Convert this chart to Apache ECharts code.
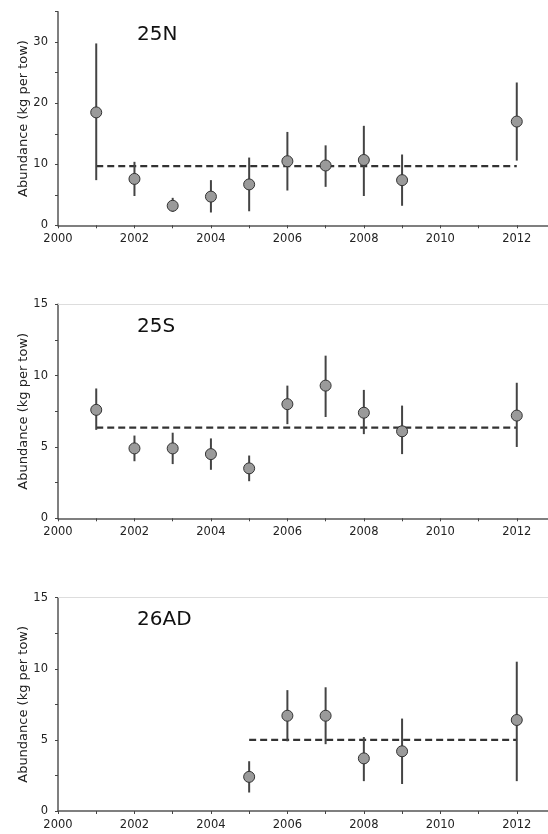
<!DOCTYPE html>
<html>
<head>
<meta charset="utf-8">
<script src="https://cdn.jsdelivr.net/npm/echarts@6/dist/echarts.min.js"></script>
<style>
  html, body { margin: 0; padding: 0; background: #fff; }
  #chart { width: 548px; height: 834px; }
</style>
</head>
<body>
<div id="chart"></div>
<script>
// 25N
const years25N = [2001, 2002, 2003, 2004, 2005, 2006, 2007, 2008, 2009, 2012];
const mean25N = [18.5, 7.6, 3.2, 4.7, 6.7, 10.5, 9.8, 10.7, 7.4, 17.0];
const low25N = [7.4, 4.8, 2.2, 2.1, 2.3, 5.7, 6.3, 4.8, 3.2, 10.6];
const high25N = [29.8, 10.4, 4.5, 7.4, 11.1, 15.3, 13.1, 16.3, 11.6, 23.4];
const avg25N = 9.7;

// 25S
const years25S = [2001, 2002, 2003, 2004, 2005, 2006, 2007, 2008, 2009, 2012];
const mean25S = [7.6, 4.9, 4.9, 4.5, 3.5, 8.0, 9.3, 7.4, 6.1, 7.2];
const low25S = [6.2, 4.0, 3.8, 3.4, 2.6, 6.6, 7.1, 5.9, 4.5, 5.0];
const high25S = [9.1, 5.8, 6.0, 5.6, 4.4, 9.3, 11.4, 9.0, 7.9, 9.5];
const avg25S = 6.35;

// 26AD
const years26AD = [2005, 2006, 2007, 2008, 2009, 2012];
const mean26AD = [2.4, 6.7, 6.7, 3.7, 4.2, 6.4];
const low26AD = [1.3, 4.9, 4.7, 2.1, 1.9, 2.1];
const high26AD = [3.5, 8.5, 8.7, 5.2, 6.5, 10.5];
const avg26AD = 5.0;

const panelNames = ['25N', '25S', '26AD'];
const yMax = [35, 15, 15];
const yStep = [5, 2.5, 2.5];
const yLabelStep = [10, 5, 5];
const yTitle = 'Abundance (kg per tow)';

const panels = [
    { years: years25N, mean: mean25N, low: low25N, high: high25N, avg: avg25N },
    { years: years25S, mean: mean25S, low: low25S, high: high25S, avg: avg25S },
    { years: years26AD, mean: mean26AD, low: low26AD, high: high26AD, avg: avg26AD }
];

const gridTops = [11.7, 304.3, 597.7];
const gridHeights = [213.6, 214, 213.3];
const FONT = '"DejaVu Sans", Verdana, sans-serif';

const chart = echarts.init(document.getElementById('chart'), null, { renderer: 'canvas' });

const grid = [], xAxis = [], yAxis = [], series = [], title = [];

panels.forEach((p, i) => {
    grid.push({
        left: 58, top: gridTops[i], width: 497, height: gridHeights[i],
        containLabel: false, outerBoundsMode: 'none'
    });

    xAxis.push({
        type: 'value', gridIndex: i, min: 2000, max: 2013, interval: 1,
        axisLine: { onZero: false, lineStyle: { color: '#555', width: 1.5 } },
        axisTick: { length: 3, lineStyle: { color: '#444', width: 1 } },
        splitLine: { show: false },
        axisLabel: {
            color: '#222', fontSize: 11.5, fontFamily: FONT, margin: 8,
            formatter: v => (v % 2 === 0 && v <= 2012) ? String(v) : ''
        }
    });
    // light top border on lower panels
    xAxis.push({
        type: 'value', gridIndex: i, position: 'top', min: 2000, max: 2013,
        axisLine: { show: i > 0, onZero: false, lineStyle: { color: '#ddd', width: 1 } },
        axisTick: { show: false }, axisLabel: { show: false }, splitLine: { show: false }
    });

    yAxis.push({
        type: 'value', gridIndex: i, min: 0, max: yMax[i], interval: yStep[i],
        name: yTitle, nameLocation: 'middle', nameGap: 28, nameMoveOverlap: false,
        nameTextStyle: { color: '#222', fontSize: 13, fontFamily: FONT },
        axisLine: { show: true, lineStyle: { color: '#555', width: 1.5 } },
        axisTick: { show: true, length: 3, lineStyle: { color: '#444', width: 1 } },
        splitLine: { show: false },
        axisLabel: {
            color: '#222', fontSize: 11.5, fontFamily: FONT, margin: 10,
            formatter: v => (v % yLabelStep[i] === 0) ? String(v) : ''
        }
    });

    const xIdx = i * 2;

    // average dashed line
    series.push({
        type: 'line', xAxisIndex: xIdx, yAxisIndex: i,
        data: [[p.years[0], p.avg], [p.years[p.years.length - 1], p.avg]],
        symbol: 'none', silent: true, z: 2,
        lineStyle: { color: '#333', width: 2.2, type: [7, 4] }
    });

    // error bars
    series.push({
        type: 'custom', xAxisIndex: xIdx, yAxisIndex: i, z: 3,
        data: p.years.map((y, k) => [y, p.low[k], p.high[k]]),
        encode: { x: 0, y: [1, 2] },
        renderItem: (params, api) => {
            const a = api.coord([api.value(0), api.value(1)]);
            const b = api.coord([api.value(0), api.value(2)]);
            return {
                type: 'line',
                shape: { x1: a[0], y1: a[1], x2: b[0], y2: b[1] },
                style: { stroke: '#444', lineWidth: 2 }
            };
        }
    });

    // means
    series.push({
        type: 'scatter', xAxisIndex: xIdx, yAxisIndex: i, z: 4,
        data: p.years.map((y, k) => [y, p.mean[k]]),
        symbol: 'circle', symbolSize: 11,
        itemStyle: { color: '#9a9a9a', borderColor: '#333', borderWidth: 1, opacity: 1 }
    });

    title.push({
        text: panelNames[i], left: 137, top: gridTops[i] + [13, 12, 12][i], padding: 0,
        textStyle: { fontSize: 20, fontWeight: 'normal', color: '#111', fontFamily: FONT }
    });
});

chart.setOption({
    animation: false,
    backgroundColor: '#fff',
    title, grid, xAxis, yAxis, series
});
</script>
</body>
</html>
